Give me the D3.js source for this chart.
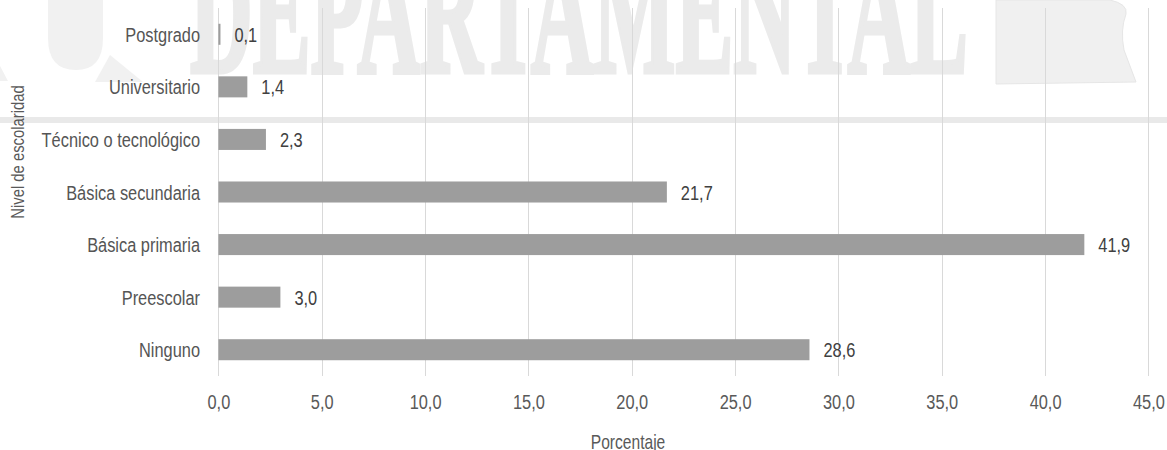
<!DOCTYPE html>
<html>
<head>
<meta charset="utf-8">
<script src="https://cdn.jsdelivr.net/npm/d3@7"></script>
<style>
  html, body { margin: 0; padding: 0; background: #fff; }
  svg { display: block; }
  text { font-family: "Liberation Sans", Arial, sans-serif; }
</style>
</head>
<body>
<svg id="chart" width="1167" height="450"></svg>
<script>
// ---- data ----
const categories = ["Postgrado", "Universitario", "Técnico o tecnológico", "Básica secundaria", "Básica primaria", "Preescolar", "Ninguno"];
const values = [0.1, 1.4, 2.3, 21.7, 41.9, 3.0, 28.6];
const xTicks = [0, 5, 10, 15, 20, 25, 30, 35, 40, 45];
const xTitle = "Porcentaje";
const yTitle = "Nivel de escolaridad";
const watermarkText = "DEPARTAMENTAL";

const data = categories.map((c, i) => ({ cat: c, val: values[i] }));

const W = 1167, H = 450;
const SX = 0.78; // narrow-font horizontal compression
const svg = d3.select("#chart");

const locale = d3.formatLocale({ decimal: ",", thousands: ".", grouping: [3], currency: ["$", ""] });
const fmt = locale.format(".1f");

const x = d3.scaleLinear().domain([0, 45]).range([218.4, 1148.4]);
const y = d3.scaleBand().domain(categories).range([8, 376]).paddingInner(0.6).paddingOuter(0.3);

// ---- watermark (background logo) ----
const wm = svg.append("g").attr("class", "watermark");
wm.append("rect").attr("x", 0).attr("y", 117).attr("width", W).attr("height", 6).attr("fill", "#e9e9e9");
wm.append("path")
  .attr("d", "M48,0 L48,38 Q48,70 76,70 Q103,70 103,38 L103,0 Z")
  .attr("fill", "#f1f1f1");
wm.append("path").attr("d", "M110,55 L143,82 L95,82 Z").attr("fill", "#f1f1f1");
wm.append("path").attr("d", "M0,66 L8,81 L0,81 Z").attr("fill", "#f1f1f1");
wm.append("path")
  .attr("d", "M996,0 L1110,0 Q1128,4 1126,14 Q1120,30 1124,50 L1136,82 L996,84 Z")
  .attr("fill", "#f0f0f0").attr("stroke", "#e6e6e6").attr("stroke-width", 1);
wm.append("text")
  .attr("x", 190).attr("y", 72)
  .attr("textLength", 778).attr("lengthAdjust", "spacingAndGlyphs")
  .style("font-family", "'Liberation Serif', 'DejaVu Serif', serif")
  .style("font-weight", "bold")
  .style("font-size", "180px")
  .attr("fill", "#ebebeb")
  .attr("stroke", "#ebebeb").attr("stroke-width", 5)
  .text(watermarkText);

// ---- gridlines ----
svg.append("g")
  .selectAll("line")
  .data(xTicks)
  .join("line")
  .attr("x1", d => Math.round(x(d)) + 0.5)
  .attr("x2", d => Math.round(x(d)) + 0.5)
  .attr("y1", 8).attr("y2", 376)
  .attr("stroke", "#d9d9d9").attr("stroke-width", 1);

// ---- x axis tick labels ----
const xAxis = d3.axisBottom(x).tickValues(xTicks).tickFormat(fmt).tickSize(0).tickPadding(0);
const gx = svg.append("g").attr("transform", "translate(0,409)").call(xAxis);
gx.attr("font-family", null).attr("font-size", null);
gx.select(".domain").remove();
gx.selectAll("text")
  .attr("dy", null).attr("y", 0)
  .attr("transform", `scale(${SX},1)`)
  .style("font-size", "21px").attr("fill", "#595959");

// ---- y axis category labels ----
const yAxis = d3.axisLeft(y).tickSize(0).tickPadding(0);
const gy = svg.append("g").attr("transform", "translate(200,0)").call(yAxis);
gy.attr("font-family", null).attr("font-size", null);
gy.select(".domain").remove();
gy.selectAll("text")
  .attr("x", 0)
  .attr("dy", "0.36em")
  .attr("transform", `scale(${SX},1)`)
  .style("font-size", "21px").attr("fill", "#555555");

// ---- bars ----
svg.append("g")
  .selectAll("rect")
  .data(data)
  .join("rect")
  .attr("x", x(0))
  .attr("y", d => y(d.cat))
  .attr("width", d => x(d.val) - x(0))
  .attr("height", y.bandwidth())
  .attr("fill", "#9d9d9d");

// ---- value labels ----
svg.append("g")
  .selectAll("text")
  .data(data)
  .join("text")
  .attr("transform", d => `translate(${x(d.val) + 14},${y(d.cat) + y.bandwidth() / 2}) scale(${SX},1)`)
  .attr("dy", "0.36em")
  .style("font-size", "21px")
  .attr("fill", "#404040")
  .text(d => fmt(d.val));

// ---- titles ----
svg.append("text")
  .attr("transform", `translate(628,449) scale(${SX},1)`)
  .attr("text-anchor", "middle")
  .style("font-size", "20px").attr("fill", "#595959")
  .text(xTitle);

svg.append("text")
  .attr("transform", `translate(24,152) rotate(-90) scale(${SX},1)`)
  .attr("text-anchor", "middle")
  .style("font-size", "19px").attr("fill", "#595959")
  .text(yTitle);
</script>
</body>
</html>
